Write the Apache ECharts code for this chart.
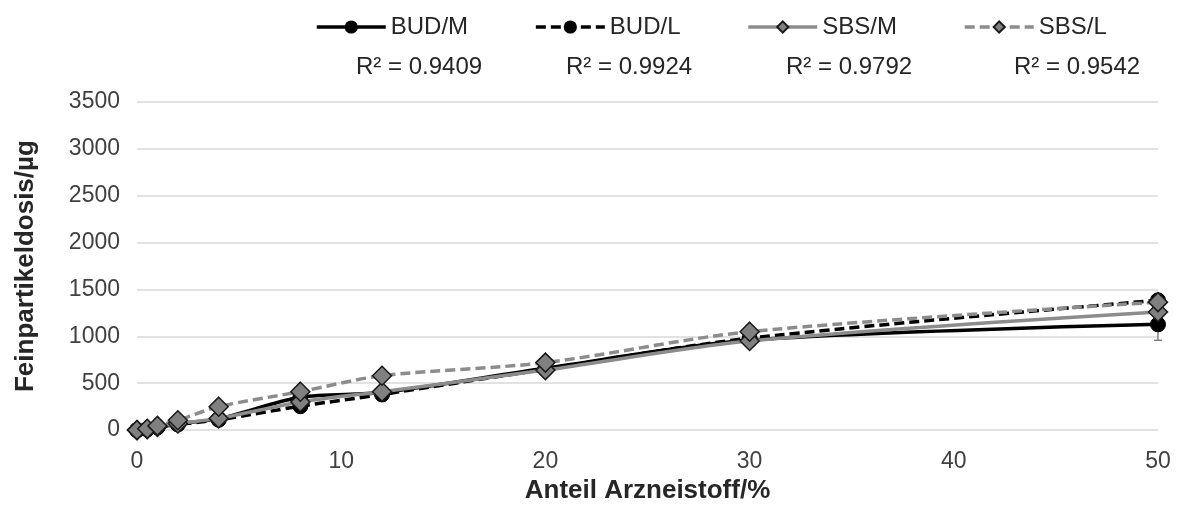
<!DOCTYPE html>
<html>
<head>
<meta charset="utf-8">
<script src="https://cdn.jsdelivr.net/npm/echarts@6/dist/echarts.min.js"></script>
<style>
  html, body { margin: 0; padding: 0; background: #fff; }
  #chart { width: 1183px; height: 509px; }
</style>
</head>
<body>
<div id="chart"></div>
<script>
var anteil = [0, 0.5, 1, 2, 4, 8, 12, 20, 30, 50];
var budM = [0, 10, 30, 70, 120, 350, 400, 660, 960, 1128];
var budL = [0, 10, 30, 60, 110, 255, 380, 650, 980, 1385];
var sbsM = [0, 10, 35, 70, 125, 300, 410, 640, 950, 1260];
var sbsL = [0, 15, 45, 105, 250, 410, 580, 720, 1050, 1365];
// error bars only visible at 50 %
var errBudM = [[50, 1128, 170]];
var rSquared = ['R² = 0.9409', 'R² = 0.9924', 'R² = 0.9792', 'R² = 0.9542'];

function pairs(ys) {
  return anteil.map(function (x, i) { return [x, ys[i]]; });
}

var myChart = echarts.init(document.getElementById('chart'));
var font = 'Liberation Sans, Arial, sans-serif';

var option = {
  animation: false,
  grid: { left: 137, right: 25, top: 102, bottom: 77 },
  legend: {
    top: 10,
    left: 310,
    itemWidth: 69,
    itemHeight: 14,
    itemGap: 66,
    lineStyle: { width: 3.5 },
    textStyle: { fontFamily: font, fontSize: 24, color: '#262626' },
    data: ['BUD/M', 'BUD/L', 'SBS/M', 'SBS/L']
  },
  graphic: rSquared.map(function (t, i) {
    return {
      type: 'text',
      left: [356, 566, 786, 1014][i],
      top: 55,
      style: { text: t, font: '24px ' + font, fill: '#262626' }
    };
  }),
  xAxis: {
    type: 'value',
    min: 0, max: 50, interval: 10,
    name: 'Anteil Arzneistoff/%',
    nameLocation: 'middle',
    nameGap: 45,
    nameTextStyle: { fontFamily: font, fontSize: 26, fontWeight: 'bold', color: '#262626' },
    axisLine: { show: false },
    axisTick: { show: false },
    splitLine: { show: false },
    axisLabel: { fontFamily: font, fontSize: 23, color: '#404040', margin: 20 }
  },
  yAxis: {
    type: 'value',
    min: 0, max: 3500, interval: 500,
    name: 'Feinpartikeldosis/µg',
    nameLocation: 'middle',
    nameGap: 98,
    nameTextStyle: { fontFamily: font, fontSize: 26, fontWeight: 'bold', color: '#262626' },
    axisLine: { show: false },
    axisTick: { show: false },
    splitLine: { lineStyle: { color: '#d9d9d9', width: 1.5 } },
    axisLabel: {
      fontFamily: font, fontSize: 23, color: '#404040', margin: 17,
      formatter: function (v) { return String(v); }
    }
  },
  series: [
    {
      name: 'BUD/M', type: 'line', data: pairs(budM), smooth: 0.3,
      symbol: 'circle', symbolSize: 15, z: 2,
      lineStyle: { color: '#000', width: 3.5 },
      itemStyle: { color: '#000', borderColor: '#000', borderWidth: 1 }
    },
    {
      name: 'BUD/L', type: 'line', data: pairs(budL), smooth: 0.3,
      symbol: 'circle', symbolSize: 15, z: 2,
      lineStyle: { color: '#000', width: 3.5, type: [10, 5] },
      itemStyle: { color: '#000', borderColor: '#000', borderWidth: 1 }
    },
    {
      name: 'SBS/M', type: 'line', data: pairs(sbsM), smooth: 0.3,
      symbol: 'diamond', symbolSize: 19, z: 3,
      lineStyle: { color: '#8c8c8c', width: 3.5 },
      itemStyle: { color: '#808080', borderColor: '#1a1a1a', borderWidth: 1.5 }
    },
    {
      name: 'SBS/L', type: 'line', data: pairs(sbsL), smooth: 0.3,
      symbol: 'diamond', symbolSize: 19, z: 3,
      lineStyle: { color: '#8c8c8c', width: 3.5, type: [10, 5] },
      itemStyle: { color: '#808080', borderColor: '#1a1a1a', borderWidth: 1.5 }
    },
    {
      name: 'err', type: 'custom', z: 1,
      data: errBudM,
      renderItem: function (params, api) {
        var x = api.value(0), y = api.value(1), e = api.value(2);
        var lo = api.coord([x, y - e]);
        var hi = api.coord([x, y + e]);
        var st = { stroke: '#808080', lineWidth: 1.5 };
        return {
          type: 'group',
          children: [
            { type: 'line', shape: { x1: lo[0], y1: lo[1], x2: hi[0], y2: hi[1] }, style: st },
            { type: 'line', shape: { x1: lo[0] - 4, y1: lo[1], x2: lo[0] + 4, y2: lo[1] }, style: st },
            { type: 'line', shape: { x1: hi[0] - 4, y1: hi[1], x2: hi[0] + 4, y2: hi[1] }, style: st }
          ]
        };
      }
    }
  ]
};
myChart.setOption(option);
</script>
</body>
</html>
